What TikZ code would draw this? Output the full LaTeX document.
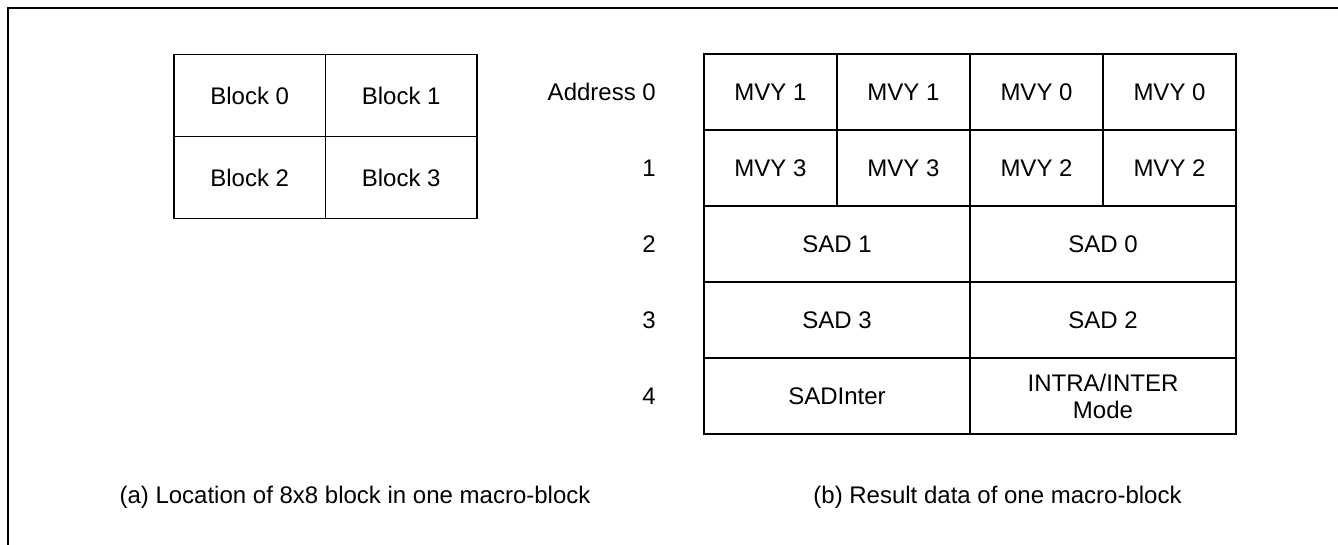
\documentclass[tikz,border=0pt]{standalone}
\usepackage{fontspec}
\setmainfont{Liberation Sans}
\begin{document}
\begin{tikzpicture}[x=1pt,y=-1pt,
  txt/.style={font=\fontsize{24}{27}\selectfont},
  cell/.style={txt,draw=black,line width=1.4pt,rectangle,inner sep=0pt,align=center},
  lcell/.style={cell,minimum width=151.5pt,minimum height=82pt},
  qcell/.style={cell,minimum width=133pt,minimum height=76pt},
  hcell/.style={cell,minimum width=266pt,minimum height=76pt},
  addr/.style={txt,anchor=east,inner sep=0pt},
  captext/.style={txt,inner sep=0pt}]
\useasboundingbox (0,0) rectangle (1338,544);
\clip (0,0) rectangle (1338,544);
\fill[white] (0,0) rectangle (1338,544);
\draw[line width=2pt] (7.5,600) -- (7.5,7.5) -- (1400,7.5);
% left table
\node[lcell] (b0) at (249.75,95.5) {Block 0};
\node[lcell] (b1) at (401.25,95.5) {Block 1};
\node[lcell] (b2) at (249.75,177.5) {Block 2};
\node[lcell] (b3) at (401.25,177.5) {Block 3};
% right table
\node[qcell] (m10) at (770.5,92) {MVY 1};
\node[qcell] (m11) at (903.5,92) {MVY 1};
\node[qcell] (m00) at (1036.5,92) {MVY 0};
\node[qcell] (m01) at (1169.5,92) {MVY 0};
\node[qcell] (m30) at (770.5,168) {MVY 3};
\node[qcell] (m31) at (903.5,168) {MVY 3};
\node[qcell] (m20) at (1036.5,168) {MVY 2};
\node[qcell] (m21) at (1169.5,168) {MVY 2};
\node[hcell] (s1) at (837,244) {SAD 1};
\node[hcell] (s0) at (1103,244) {SAD 0};
\node[hcell] (s3) at (837,320) {SAD 3};
\node[hcell] (s2) at (1103,320) {SAD 2};
\node[hcell] (si) at (837,396) {SADInter};
\node[hcell] (mode) at (1103,396) {INTRA/INTER\\Mode};
% addresses
\node[addr] (a0) at (656,92) {Address 0};
\node[addr] (a1) at (656,168) {1};
\node[addr] (a2) at (656,244) {2};
\node[addr] (a3) at (656,320) {3};
\node[addr] (a4) at (656,396) {4};
% captions
\node[captext] (capa) at (355,497) {(a) Location of 8x8 block in one macro-block};
\node[captext] (capb) at (997.5,497) {(b) Result data of one macro-block};
\end{tikzpicture}
\end{document}
